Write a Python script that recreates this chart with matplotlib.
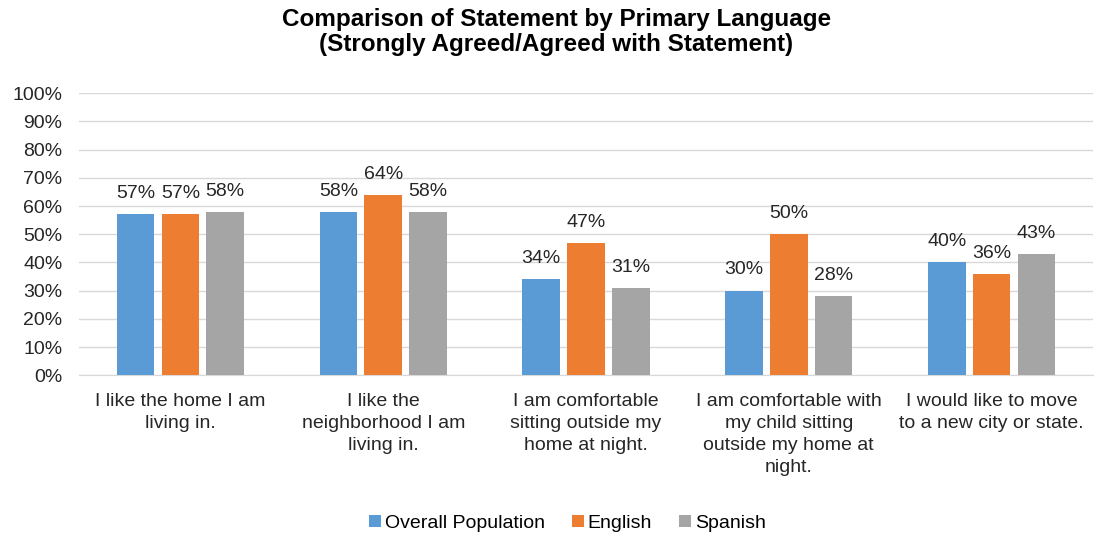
import matplotlib
matplotlib.use("Agg")
import matplotlib.pyplot as plt
import numpy as np

plt.rcParams['font.family'] = ['Liberation Sans', 'DejaVu Sans']

# data
categories = ["I like the home I am\nliving in.",
              "I like the\nneighborhood I am\nliving in.",
              "I am comfortable\nsitting outside my\nhome at night.",
              "I am comfortable with\nmy child sitting\noutside my home at\nnight.",
              "I would like to move\nto a new city or state."]
overall = [57, 58, 34, 30, 40]
english = [57, 64, 47, 50, 36]
spanish = [58, 58, 31, 28, 43]
series_names = ["Overall Population", "English", "Spanish"]
colors = ["#5B9BD5", "#ED7D31", "#A5A5A5"]

fig = plt.figure(figsize=(11.13, 5.36), dpi=100)
ax = fig.add_axes([0.0710, 0.300, 0.9110, 0.526])

x = np.arange(len(categories))
width = 0.185
step = 0.221
for i, (vals, name, c) in enumerate(zip([overall, english, spanish], series_names, colors)):
    bars = ax.bar(x + (i - 1) * step, vals, width, color=c, label=name, zorder=3)
    for b, v in zip(bars, vals):
        ax.text(b.get_x() + b.get_width() / 2, v + 4.3, "%d%%" % v,
                ha='center', va='bottom', fontsize=14, color='#262626')

ax.set_ylim(0, 100)
ax.set_xlim(-0.5, len(categories) - 0.5)
ax.set_yticks(range(0, 101, 10))
ax.set_yticklabels(["%d%%" % t for t in range(0, 101, 10)], fontsize=14, color='#262626')
ax.set_xticks(x)
ax.set_xticklabels(categories, fontsize=14, color='#262626', linespacing=1.38)
ax.tick_params(axis='x', length=0, pad=13)
ax.tick_params(axis='y', length=0, pad=12)
ax.grid(axis='y', color='#D9D9D9', linewidth=1, zorder=0)
for s in ['top', 'right', 'left']:
    ax.spines[s].set_visible(False)
ax.spines['bottom'].set_color('#D9D9D9')

fig.suptitle("Comparison of Statement by Primary Language\n(Strongly Agreed/Agreed with Statement)",
             fontsize=17.5, fontweight='bold', color='#000000', y=0.985, linespacing=1.1)

fig.legend(loc='lower center', ncol=3, frameon=False, fontsize=14,
           bbox_to_anchor=(0.51, -0.025), handlelength=0.6, handleheight=0.6,
           columnspacing=1.4, handletextpad=0.2)

fig.savefig("out.png", dpi=100)
